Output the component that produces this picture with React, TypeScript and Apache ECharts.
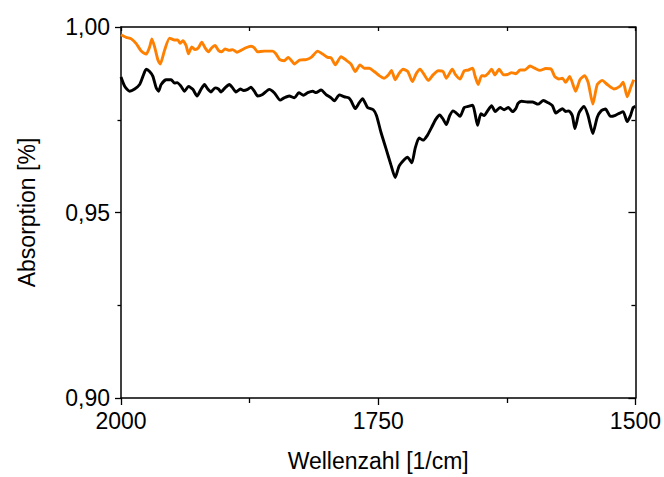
import React, { useEffect, useRef } from "react";
import * as echarts from "echarts";

// Wavenumber [1/cm] and absorption values
const orangeX = [2000, 1995, 1990, 1985.2, 1980.3, 1975.5, 1972.2, 1970, 1967.3, 1964.1, 1961.9, 1957.7, 1952.8, 1948, 1944.8, 1942.5, 1939.9, 1936.7, 1934.4, 1931.2, 1928, 1924.7, 1921.5, 1918.3, 1915, 1911.8, 1908.6, 1905.3, 1902.1, 1898.9, 1894.7, 1891.5, 1887.3, 1883.4, 1878.6, 1873.7, 1870.4, 1867.2, 1860.8, 1852.7, 1849.5, 1845.6, 1841.4, 1837.5, 1833.3, 1831.4, 1826.5, 1820.1, 1815.2, 1808.8, 1804, 1799.1, 1795.8, 1791.7, 1786.1, 1781.3, 1776.4, 1772.3, 1767.7, 1763.6, 1758.7, 1753.9, 1749, 1744.2, 1740, 1737.1, 1733.5, 1729.7, 1725.8, 1721.2, 1716.8, 1712.9, 1709.3, 1706.1, 1701.3, 1696.7, 1691.6, 1687, 1683.8, 1678, 1674.7, 1670.5, 1666.4, 1662.5, 1658.2, 1656, 1652.8, 1649.5, 1646.3, 1643.1, 1639.8, 1636.6, 1632.5, 1628.2, 1624.3, 1620.4, 1616.3, 1612.1, 1607.6, 1602.4, 1597.9, 1592.7, 1587.2, 1581.7, 1578.5, 1574.3, 1571, 1567.8, 1563.9, 1558.1, 1553.9, 1549.4, 1545.8, 1541.4, 1537.1, 1532.3, 1527.4, 1521, 1515.2, 1511.9, 1508, 1504.2, 1501.6];
const orangeY = [0.9979, 0.9972, 0.9968, 0.9955, 0.9935, 0.9927, 0.9946, 0.9968, 0.9946, 0.9911, 0.99, 0.9937, 0.997, 0.9965, 0.9965, 0.9956, 0.9963, 0.995, 0.9928, 0.9946, 0.9939, 0.9944, 0.9959, 0.9944, 0.9933, 0.9944, 0.995, 0.9937, 0.9933, 0.9941, 0.9937, 0.9939, 0.9932, 0.9937, 0.9944, 0.9948, 0.9944, 0.9933, 0.9935, 0.9935, 0.9928, 0.9912, 0.9909, 0.9918, 0.9906, 0.99, 0.9911, 0.9912, 0.9918, 0.9935, 0.9927, 0.9918, 0.9917, 0.9898, 0.992, 0.9911, 0.99, 0.988, 0.9898, 0.9889, 0.9889, 0.988, 0.9869, 0.9862, 0.9871, 0.9883, 0.9858, 0.9875, 0.9886, 0.988, 0.9853, 0.9875, 0.9886, 0.9875, 0.9856, 0.9871, 0.9882, 0.988, 0.9862, 0.9886, 0.9871, 0.986, 0.9882, 0.9884, 0.9889, 0.9869, 0.9845, 0.9869, 0.9868, 0.9875, 0.9886, 0.9871, 0.9886, 0.9871, 0.9872, 0.9877, 0.9874, 0.9884, 0.9884, 0.9895, 0.9889, 0.9883, 0.9888, 0.9886, 0.9867, 0.986, 0.9862, 0.9851, 0.9867, 0.9827, 0.9858, 0.9869, 0.9849, 0.9792, 0.9845, 0.9856, 0.9845, 0.9833, 0.984, 0.9851, 0.9812, 0.984, 0.9858];

const blackX = [2000, 1996.4, 1991.6, 1986.7, 1981.9, 1978.7, 1975.5, 1972.2, 1969, 1965.8, 1963.5, 1961, 1956.1, 1951.3, 1948, 1945.4, 1941.6, 1938.3, 1934.4, 1930.2, 1926.1, 1922.2, 1918.9, 1915.7, 1912.5, 1908.6, 1905.3, 1902.8, 1898.9, 1894.7, 1891.5, 1888.3, 1884, 1880.8, 1876.9, 1873.7, 1870.4, 1867.2, 1862.4, 1855.9, 1851.1, 1845.3, 1841.4, 1836.5, 1831.4, 1827.2, 1822.7, 1818.5, 1813.7, 1810.4, 1805.5, 1800.7, 1795.8, 1792.6, 1787.8, 1782.9, 1778.8, 1776.4, 1772.3, 1768.4, 1765.2, 1760.4, 1754.8, 1751.6, 1747.4, 1742.5, 1737.7, 1733.5, 1729.7, 1724.8, 1721.6, 1717.3, 1714.1, 1710.3, 1706.4, 1702.2, 1698, 1694.1, 1690.2, 1687, 1683.8, 1680.5, 1677.3, 1674.1, 1670.5, 1666.4, 1662.5, 1658.2, 1656, 1653.4, 1650.2, 1647, 1643.7, 1639.8, 1636.3, 1631.5, 1627.6, 1623.4, 1619.5, 1616.3, 1614.1, 1610.8, 1605, 1600.1, 1594.7, 1589.4, 1585, 1580.7, 1577.5, 1574.3, 1571, 1567.8, 1564.6, 1561.3, 1558.8, 1554.9, 1550.1, 1546.2, 1541.4, 1537.1, 1533.3, 1529.1, 1524.2, 1519.4, 1515.2, 1511.9, 1508, 1504.8, 1502.2, 1500];
const blackY = [0.9865, 0.984, 0.9827, 0.9833, 0.9845, 0.9867, 0.9886, 0.988, 0.9867, 0.9836, 0.9827, 0.9845, 0.9858, 0.9858, 0.9849, 0.985, 0.984, 0.9827, 0.984, 0.9832, 0.9814, 0.9832, 0.9845, 0.9833, 0.9825, 0.9836, 0.9833, 0.9825, 0.9836, 0.9845, 0.9836, 0.9825, 0.9833, 0.9829, 0.9832, 0.9838, 0.9827, 0.9814, 0.9818, 0.9832, 0.9823, 0.9803, 0.9809, 0.9814, 0.9809, 0.9823, 0.9816, 0.9823, 0.9827, 0.9823, 0.983, 0.9818, 0.9809, 0.9801, 0.9817, 0.9812, 0.9809, 0.9801, 0.978, 0.9796, 0.9807, 0.9783, 0.9777, 0.9761, 0.9717, 0.9673, 0.9629, 0.9594, 0.9625, 0.9642, 0.9649, 0.9634, 0.9673, 0.9701, 0.9695, 0.9708, 0.973, 0.9751, 0.9763, 0.9752, 0.9737, 0.9761, 0.9774, 0.9768, 0.9759, 0.9783, 0.9786, 0.9789, 0.9768, 0.9735, 0.9766, 0.9761, 0.9774, 0.9788, 0.9772, 0.9783, 0.9777, 0.9783, 0.9772, 0.978, 0.9794, 0.98, 0.9798, 0.9798, 0.9792, 0.9802, 0.9796, 0.9788, 0.9768, 0.9774, 0.978, 0.9772, 0.9774, 0.9761, 0.9726, 0.9768, 0.9786, 0.9763, 0.9713, 0.9757, 0.9774, 0.9779, 0.9759, 0.9762, 0.9768, 0.9772, 0.9745, 0.9761, 0.9783, 0.9786];

const xTitle = "Wellenzahl [1/cm]";
const yTitle = "Absorption [%]";

const FONT = "'Liberation Sans', Arial, sans-serif";

export default function App() {
  const ref = useRef<HTMLDivElement>(null);
  useEffect(() => {
    if (!ref.current) return;
    const chart = echarts.init(ref.current, undefined, { renderer: "svg" });
    const axisLine = { show: true, lineStyle: { color: "#000", width: 1.5 } };
    chart.setOption({
      animation: false,
      backgroundColor: "#fff",
      grid: { left: 121, right: 27, top: 27, bottom: 71, containLabel: false },
      xAxis: [
        {
          type: "value",
          position: "bottom",
          inverse: true,
          min: 1500,
          max: 2000,
          interval: 250,
          axisLine,
          axisTick: { show: true, inside: false, length: 7, lineStyle: { color: "#000", width: 1.3 } },
          minorTick: { show: true, splitNumber: 2, length: 5, lineStyle: { color: "#000", width: 1.3 } },
          splitLine: { show: false },
          axisLabel: {
            color: "#000",
            fontSize: 23,
            fontFamily: FONT,
            margin: 11,
            formatter: (v: number) => String(v),
          },
          name: xTitle,
          nameLocation: "middle",
          nameGap: 51,
          nameTextStyle: { color: "#000", fontSize: 23, fontFamily: FONT },
        },
        {
          type: "value",
          position: "top",
          inverse: true,
          min: 1500,
          max: 2000,
          interval: 125,
          axisLine,
          axisTick: { show: true, inside: true, length: 4, lineStyle: { color: "#000", width: 1.3 } },
          axisLabel: { show: false },
          splitLine: { show: false },
        },
      ],
      yAxis: [
        {
          type: "value",
          position: "left",
          min: 0.9,
          max: 1.0,
          interval: 0.05,
          axisLine,
          axisTick: { show: true, inside: false, length: 6, lineStyle: { color: "#000", width: 1.3 } },
          minorTick: { show: true, splitNumber: 2, length: 3.5, lineStyle: { color: "#000", width: 1.3 } },
          splitLine: { show: false },
          axisLabel: {
            color: "#000",
            fontSize: 23,
            fontFamily: FONT,
            margin: 11,
            formatter: (v: number) => v.toFixed(2).replace(".", ","),
          },
          name: yTitle,
          nameLocation: "middle",
          nameGap: 83,
          nameTextStyle: { color: "#000", fontSize: 23, fontFamily: FONT },
        },
        {
          type: "value",
          position: "right",
          min: 0.9,
          max: 1.0,
          interval: 0.05,
          axisLine,
          axisTick: { show: true, inside: true, length: 7, lineStyle: { color: "#000", width: 1.3 } },
          minorTick: { show: true, splitNumber: 2, length: 4, lineStyle: { color: "#000", width: 1.3 } },
          splitLine: { show: false },
          axisLabel: { show: false },
        },
      ],
      series: [
        {
          type: "line",
          data: blackX.map((x, i) => [x, blackY[i]]),
          showSymbol: false,
          smooth: 0.2,
          lineStyle: { color: "#000", width: 2.9 },
          itemStyle: { color: "#000" },
          xAxisIndex: 0,
          yAxisIndex: 0,
        },
        {
          type: "line",
          data: orangeX.map((x, i) => [x, orangeY[i]]),
          showSymbol: false,
          smooth: 0.2,
          lineStyle: { color: "#ff8000", width: 2.9 },
          itemStyle: { color: "#ff8000" },
          xAxisIndex: 0,
          yAxisIndex: 0,
        },
      ],
    });
    return () => chart.dispose();
  }, []);
  return (
    <div
      ref={ref}
      style={{ position: "absolute", left: 0, top: 0, width: 664, height: 477 }}
    />
  );
}
